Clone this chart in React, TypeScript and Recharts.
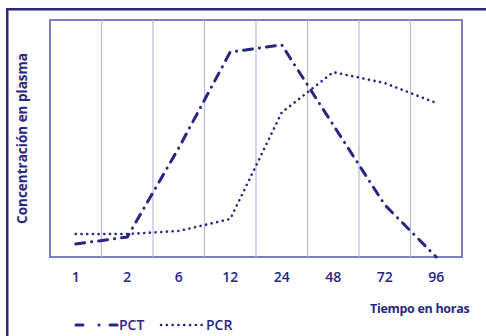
import React from 'react';
import { LineChart, Line, XAxis, YAxis, ReferenceLine, ReferenceArea } from 'recharts';

const categories = ['1', '2', '6', '12', '24', '48', '72', '96'];
const pctValues = [5.5, 8.4, 46, 86.5, 89.5, 55.7, 22, 0];
const pcrValues = [9.7, 9.7, 11, 16, 61, 78, 73.4, 65];
const boundaries = [1, 2, 3, 4, 5, 6, 7];
const tickPositions = categories.map((_, i) => i + 0.5);
const seriesNames = ['PCT', 'PCR'];

const data = categories.map((c, i) => ({ x: i + 0.5, cat: c, pct: pctValues[i], pcr: pcrValues[i] }));

const NAVY = '#27277f';
const FRAME = '#7d7dbf';
const GRID = '#b9b9dd';
const FONT = '"Open Sans", "Noto Sans", sans-serif';

const YLabel = (props: any) => {
  const vb = props.viewBox || {};
  const cx = 22;
  const cy = vb.y + vb.height / 2;
  return (
    <text x={cx} y={cy} transform={`rotate(-90 ${cx} ${cy})`} textAnchor="middle" dominantBaseline="central"
      fill={NAVY} fontFamily={FONT} fontWeight={700} fontSize={13.5}>
      Concentración en plasma
    </text>
  );
};

export default function App() {
  return (
    <div style={{ position: 'fixed', left: 0, top: 0, width: 486, height: 336, overflow: 'hidden', background: '#fff' }}>
      <div style={{ position: 'absolute', left: 0, top: 0 }}>
        <LineChart width={486} height={336} data={data} margin={{ top: 20, right: 24, bottom: 49, left: 10 }}>
          <XAxis dataKey="x" type="number" domain={[0, 8]} ticks={tickPositions} interval={0}
            tickFormatter={(v: number) => categories[Math.floor(v)]}
            axisLine={false} tickLine={false} tickSize={0} tickMargin={15} height={30}
            tick={{ fill: NAVY, fontFamily: FONT, fontWeight: 600, fontSize: 14 }} />
          <YAxis type="number" domain={[0, 100]} width={40} axisLine={false} tickLine={false} tick={false}
            label={<YLabel />} />
          {boundaries.map((b) => (
            <ReferenceLine key={b} x={b} stroke={GRID} strokeWidth={1.2} ifOverflow="extendDomain" />
          ))}
          <ReferenceArea x1={0} x2={8} y1={0} y2={100} fill="none" stroke={FRAME} strokeWidth={2} />
          <Line type="linear" dataKey="pcr" name={seriesNames[1]} stroke={NAVY} strokeWidth={2.6} strokeDasharray="0.1 5.6"
            strokeLinecap="round" dot={false} activeDot={false} isAnimationActive={false} />
          <Line type="linear" dataKey="pct" name={seriesNames[0]} stroke={NAVY} strokeWidth={3} strokeDasharray="9 7 0.1 7"
            strokeLinecap="round" dot={false} activeDot={false} isAnimationActive={false} />
        </LineChart>
      </div>
      <svg width={486} height={336} style={{ position: 'absolute', left: 0, top: 0, pointerEvents: 'none' }}>
        <rect x={6} y={8} width={2.5} height={328} fill={NAVY} />
        <rect x={6} y={8} width={480} height={2.5} fill={NAVY} />
        <text x={370} y={312.5} fill={NAVY} fontFamily={FONT} fontWeight={700} fontSize={12.5} letterSpacing={-0.3}>
          Tiempo en horas
        </text>
        <line x1={76} y1={325} x2={120} y2={325} stroke={NAVY} strokeWidth={3} strokeLinecap="round"
          strokeDasharray="7 16 0.1 11 7 30" />
        <text x={119} y={330} fill={NAVY} fontFamily={FONT} fontWeight={600} fontSize={14}>{seriesNames[0]}</text>
        <line x1={161} y1={325} x2={202} y2={325} stroke={NAVY} strokeWidth={2.6} strokeLinecap="round"
          strokeDasharray="0.1 5.7" />
        <text x={206} y={330} fill={NAVY} fontFamily={FONT} fontWeight={600} fontSize={14}>{seriesNames[1]}</text>
      </svg>
    </div>
  );
}
